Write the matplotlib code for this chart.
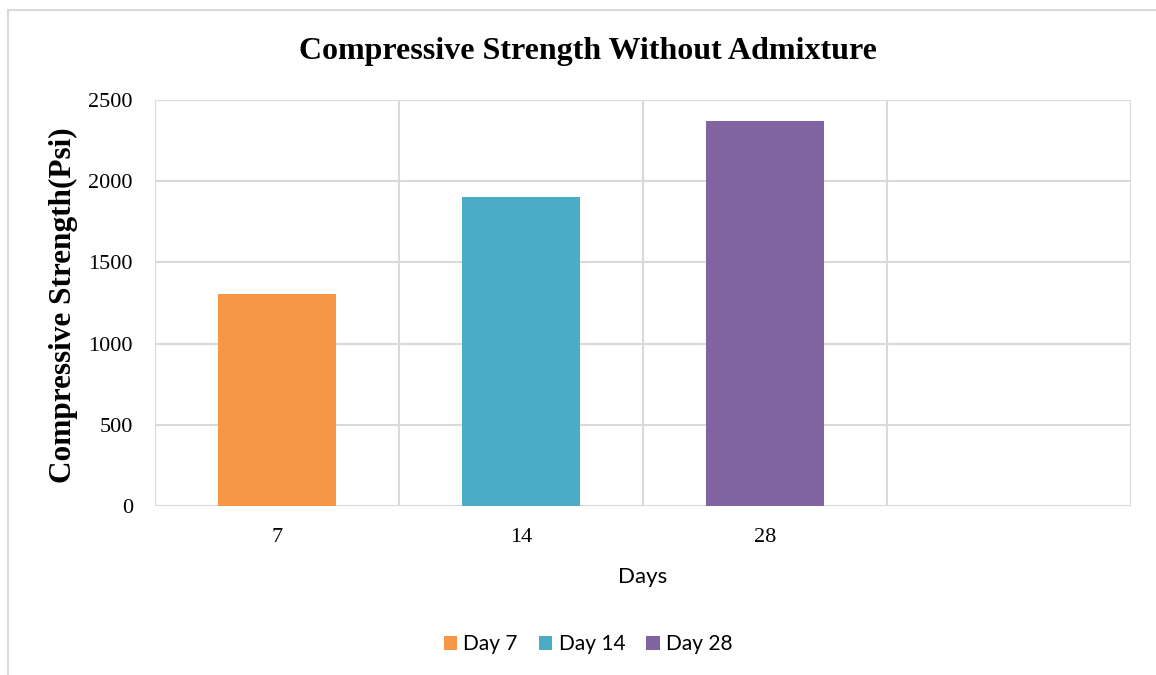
import matplotlib
matplotlib.use("Agg")
import matplotlib.pyplot as plt
from matplotlib.patches import Rectangle, Patch

# Data
categories = ["7", "14", "28", ""]
series_names = ["Day 7", "Day 14", "Day 28"]
strength_psi = [1305, 1903, 2371]
colors = ["#F79646", "#4BACC6", "#8064A2"]
y_ticks = [0, 500, 1000, 1500, 2000, 2500]

W, H = 1156, 675
fig = plt.figure(figsize=(W / 100, H / 100), dpi=100)

# Chart-area frame
fig.patches.append(Rectangle((8 / W, -0.05), 1.2, (H - 10) / H + 0.05,
                             transform=fig.transFigure, fill=False,
                             edgecolor="#d9d9d9", linewidth=1.5))

left, right, top, bottom = 155, 1131, 100, 506
ax = fig.add_axes([left / W, (H - bottom) / H, (right - left) / W, (bottom - top) / H])

serif = "Liberation Serif"
sans = "Lato"
grid_c = "#d9d9d9"

n_cat = len(categories)
for i, (name, val, c) in enumerate(zip(series_names, strength_psi, colors)):
    ax.bar(i, val, width=0.48, color=c, label=name, zorder=3)

ax.set_xlim(-0.5, n_cat - 0.5)
ax.set_ylim(0, 2500)
ax.set_yticks(y_ticks)
ax.set_yticklabels([str(t) for t in y_ticks], fontfamily=serif, fontsize=16)
ax.set_xticks(range(n_cat))
ax.set_xticklabels(categories, fontfamily=serif, fontsize=16)
ax.tick_params(axis="both", length=0, colors="#000000")
ax.tick_params(axis="x", pad=16)
ax.tick_params(axis="y", pad=16)

# Gridlines: horizontal at ticks, vertical at category boundaries
for t in y_ticks:
    ax.axhline(t, color=grid_c, linewidth=1.5, zorder=1)
for b in [k - 0.5 for k in range(n_cat + 1)]:
    ax.axvline(b, color=grid_c, linewidth=1.5, zorder=1)
for s in ax.spines.values():
    s.set_visible(False)

ax.set_xlabel("Days", fontfamily=sans, fontsize=16, labelpad=14)

fig.text(63 / W, 1 - 305 / H, "Compressive Strength(Psi)", rotation=90,
         ha="center", va="center", fontfamily=serif, fontsize=22.5, fontweight="bold")

fig.text(588 / W, (H - 51) / H, "Compressive Strength Without Admixture",
         ha="center", va="center", fontfamily=serif, fontsize=23, fontweight="bold")

handles = [Patch(facecolor=c, edgecolor="none", label=n) for n, c in zip(series_names, colors)]
fig.legend(handles=handles, loc="center", bbox_to_anchor=(588 / W, (H - 644) / H),
           ncol=3, frameon=False, prop={"family": sans, "size": 15},
           handlelength=0.65, handleheight=0.65, handletextpad=0.3, columnspacing=1.0)

fig.savefig("out.png", dpi=100, facecolor="white")
